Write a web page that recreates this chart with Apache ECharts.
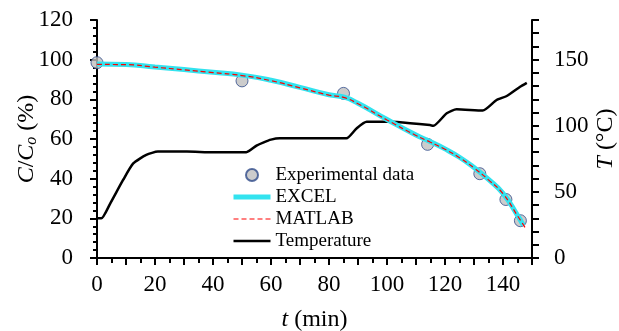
<!DOCTYPE html>
<html lang="en">
<head>
<meta charset="UTF-8">
<title>C/Co and temperature</title>
<script src="https://cdn.jsdelivr.net/npm/echarts@6/dist/echarts.min.js"></script>
</head>
<body style="margin:0">
<div id="main" style="width:619px;height:331px;"></div>
<script>
// experimental points
var expT = [0, 50, 85, 114, 132, 141, 146];
var expC = [98.5, 89.3, 83, 57.3, 42.5, 29.5, 18.8];
// EXCEL fit
var fitT = [0, 10, 20, 30, 40, 50, 60, 70, 80, 85, 90, 100, 110, 115, 120, 125, 130, 135, 140, 145, 147];
var excelC = [97.8, 97.6, 96.3, 95, 93.6, 92.2, 89.6, 86, 82.3, 81.2, 78, 69.8, 62, 58.6, 55, 50.8, 45.6, 39.6, 32.6, 21.5, 16.5];
// MATLAB fit
var matlabT = [0, 10, 20, 30, 40, 50, 60, 70, 80, 85, 90, 100, 110, 115, 120, 125, 130, 135, 140, 145, 148];
var matlabC = [97.6, 97.5, 96.2, 94.9, 93.5, 92, 89.4, 85.8, 82.1, 81, 77.8, 69.6, 61.8, 58.4, 54.8, 50.6, 45.4, 39.4, 32.4, 21.3, 14.5];
// temperature (right axis)
var tempT = [0, 1.5, 4.5, 9, 12.5, 17, 21, 31, 40, 51.5, 55, 57.5, 60, 63, 70, 80, 86, 89.5, 93, 101, 108, 114.8, 116, 120.6, 124, 133, 137.8, 141.3, 145.9, 148.2];
var tempV = [30, 30, 41, 59, 71.5, 78, 80.5, 80.5, 80, 80, 85, 87.5, 89.5, 90.5, 90.5, 90.5, 90.5, 98, 103, 103, 102, 100.5, 100, 109.5, 112.5, 111.5, 119.5, 122.5, 129.5, 132.5];

function pairs(xs, ys) {
    var out = [];
    for (var i = 0; i < xs.length; i++) out.push([xs[i], ys[i]]);
    return out;
}

var serif = 'Liberation Serif';
var chart = echarts.init(document.getElementById('main'));
var hideSym = {color: 'transparent', borderWidth: 0};

var option = {
    animation: false,
    grid: {left: 97, right: 87, top: 20, bottom: 73, outerBoundsMode: 'none', containLabel: false},
    legend: {
        orient: 'vertical',
        left: 231,
        top: 165,
        padding: 0,
        itemWidth: 37,
        itemHeight: 12,
        itemGap: 2,
        data: [
            {name: 'Experimental data'},
            {name: 'EXCEL', itemStyle: hideSym, lineStyle: {color: '#33e3ef', width: 5}},
            {name: 'MATLAB', itemStyle: hideSym, lineStyle: {color: '#ff0000', width: 1.2, type: [5, 3]}},
            {name: 'Temperature', itemStyle: hideSym, lineStyle: {color: '#000', width: 2.5}}
        ],
        textStyle: {fontFamily: serif, fontSize: 19, color: '#000', lineHeight: 20}
    },
    xAxis: {
        type: 'value',
        min: 0, max: 150, interval: 10,
        name: '{i|t} (min)',
        nameLocation: 'middle',
        nameGap: 50,
        nameMoveOverlap: false,
        nameTextStyle: {
            fontFamily: serif, fontSize: 24, color: '#000',
            rich: {i: {fontFamily: serif, fontSize: 24, fontStyle: 'italic', color: '#000'}}
        },
        axisLine: {lineStyle: {color: '#000', width: 2}},
        axisTick: {length: 7, lineStyle: {color: '#000', width: 2}},
        minorTick: {show: true, splitNumber: 2, length: 5, lineStyle: {color: '#000', width: 2}},
        axisLabel: {
            fontFamily: serif, fontSize: 23, color: '#000', margin: 15,
            formatter: function (v) { return v % 20 === 0 ? v : ''; }
        },
        splitLine: {show: false}
    },
    yAxis: [{
        type: 'value',
        min: 0, max: 120, interval: 20,
        name: '{i|C}/{i|C}{s|o} (%)',
        nameLocation: 'middle',
        nameGap: 57,
        nameMoveOverlap: false,
        nameTextStyle: {
            fontFamily: serif, fontSize: 24, color: '#000',
            rich: {
                i: {fontFamily: serif, fontSize: 24, fontStyle: 'italic', color: '#000'},
                s: {fontFamily: serif, fontSize: 16, fontStyle: 'italic', color: '#000', verticalAlign: 'bottom', padding: [10, 0, 0, 0]}
            }
        },
        axisLine: {show: true, lineStyle: {color: '#000', width: 2}},
        axisTick: {length: 7, lineStyle: {color: '#000', width: 2}},
        minorTick: {show: true, splitNumber: 5, length: 4, lineStyle: {color: '#000', width: 2}},
        axisLabel: {fontFamily: serif, fontSize: 23, color: '#000', margin: 24},
        splitLine: {show: false}
    }, {
        type: 'value',
        position: 'right',
        min: 0, max: 180, interval: 10,
        name: '{i|T} (°C)',
        nameLocation: 'middle',
        nameGap: 62,
        nameRotate: 90,
        nameMoveOverlap: false,
        nameTextStyle: {
            fontFamily: serif, fontSize: 24, color: '#000',
            rich: {i: {fontFamily: serif, fontSize: 24, fontStyle: 'italic', color: '#000'}}
        },
        axisLine: {show: true, lineStyle: {color: '#000', width: 2}},
        axisTick: {length: 7, lineStyle: {color: '#000', width: 2}},
        axisLabel: {
            fontFamily: serif, fontSize: 23, color: '#000', margin: 22,
            formatter: function (v) { return v % 50 === 0 ? v : ''; }
        },
        splitLine: {show: false}
    }],
    series: [{
        name: 'Temperature',
        type: 'line',
        yAxisIndex: 1,
        symbol: 'none',
        smooth: 0.2,
        data: pairs(tempT, tempV),
        itemStyle: {color: '#000'},
        lineStyle: {color: '#000', width: 2.5}
    }, {
        name: 'EXCEL',
        type: 'line',
        symbol: 'none',
        smooth: true,
        data: pairs(fitT, excelC),
        itemStyle: {color: '#33e3ef'},
        lineStyle: {color: '#33e3ef', width: 5}
    }, {
        name: 'MATLAB',
        type: 'line',
        symbol: 'none',
        smooth: true,
        data: pairs(matlabT, matlabC),
        itemStyle: {color: '#ff0000'},
        lineStyle: {color: '#ff0000', width: 1.2, type: [5, 3]}
    }, {
        name: 'Experimental data',
        type: 'scatter',
        symbol: 'circle',
        symbolSize: 12,
        data: pairs(expT, expC),
        itemStyle: {color: '#bfbfbf', borderColor: '#2f4b8a', borderWidth: 1}
    }]
};

chart.setOption(option);
</script>
</body>
</html>
